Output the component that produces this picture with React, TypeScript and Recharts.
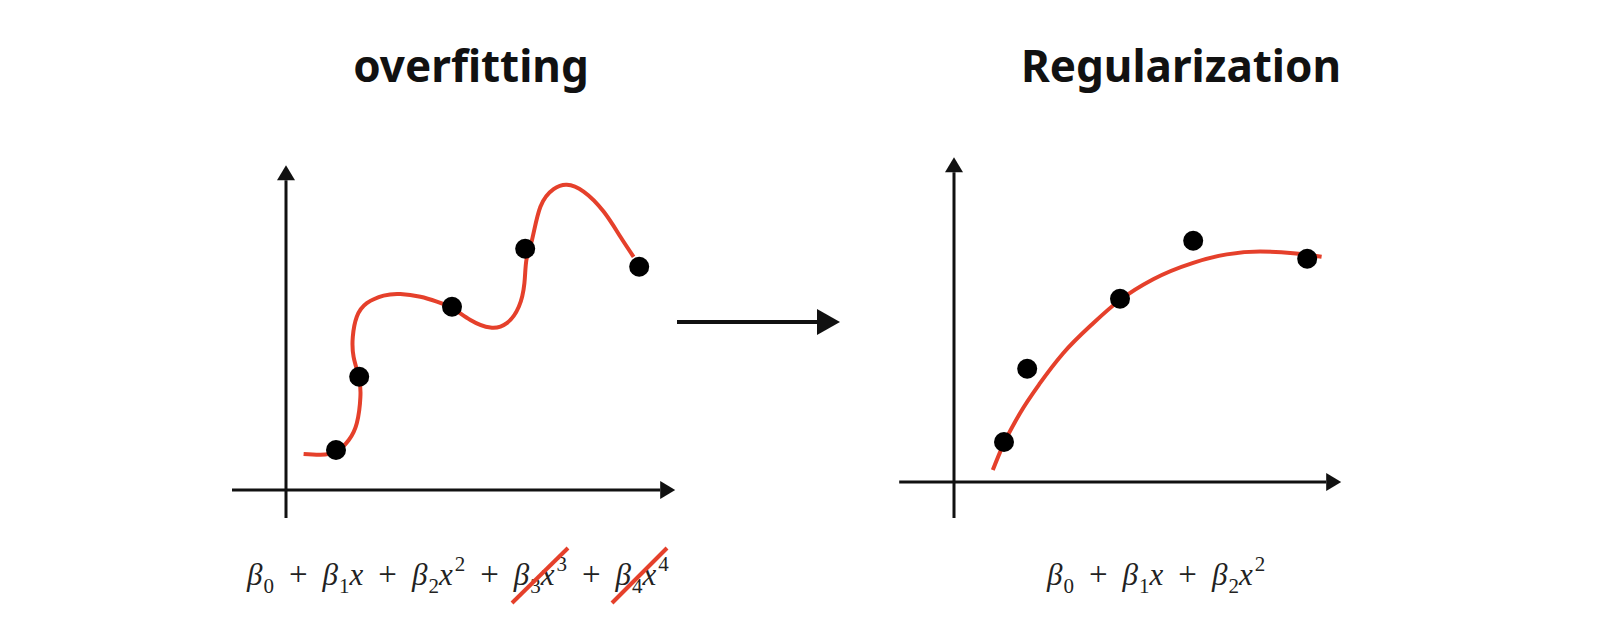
import {
    ComposedChart,
    XAxis,
    YAxis,
    ReferenceLine,
    Line,
    Scatter,
} from 'recharts';

// observed sample, same five points in both panels
const pointX = [1.25, 1.83, 4.15, 5.98, 8.83];
const pointY = [1.0, 2.83, 4.58, 6.03, 5.58];

// wiggly high-degree fit
const overfitX = [0.44, 0.86, 1.26, 1.57, 1.77, 1.86, 1.82, 1.69, 1.67, 1.77, 2.02, 2.44, 2.86, 3.36, 3.77, 4.17, 4.61, 5.11, 5.52, 5.82, 5.96, 6.01, 6.15, 6.36, 6.69, 7.02, 7.44, 7.94, 8.36, 8.69];
const overfitY = [0.9, 0.88, 0.96, 1.25, 1.67, 2.33, 2.83, 3.33, 3.83, 4.33, 4.67, 4.86, 4.9, 4.83, 4.71, 4.54, 4.25, 4.06, 4.17, 4.58, 5.17, 5.75, 6.25, 7.08, 7.52, 7.63, 7.46, 6.96, 6.33, 5.83];

// smooth quadratic fit
const regX = [0.97, 1.25, 1.65, 2.15, 2.73, 3.48, 4.15, 4.98, 5.98, 6.82, 7.65, 8.48, 9.19];
const regY = [0.3, 0.97, 1.72, 2.47, 3.22, 3.97, 4.55, 5.07, 5.48, 5.69, 5.76, 5.72, 5.63];

const titles = ['overfitting', 'Regularization'];
const leftTerms = [0, 1, 2, 3, 4];
const rightTerms = [0, 1, 2];
const struck = [3, 4];

const RED = '#e5402b';
const INK = '#111';

const points = pointX.map((x, i) => ({ x, y: pointY[i] }));
const overfit = overfitX.map((x, i) => ({ x, y: overfitY[i] }));
const reg = regX.map((x, i) => ({ x, y: regY[i] }));

function ArrowLine(p: any) {
    const { x1, y1, x2, y2 } = p;
    const a = Math.atan2(y2 - y1, x2 - x1);
    const L = 15;
    const W = 9;
    const bx = x2 - L * Math.cos(a);
    const by = y2 - L * Math.sin(a);
    const nx = -Math.sin(a) * W;
    const ny = Math.cos(a) * W;
    return (
        <g>
            <line x1={x1} y1={y1} x2={bx} y2={by} stroke={INK} strokeWidth={3} />
            <polygon points={`${x2},${y2} ${bx + nx},${by + ny} ${bx - nx},${by - ny}`} fill={INK} />
        </g>
    );
}

const Dot = (p: any) => <circle cx={p.cx} cy={p.cy} r={10} fill="#000" />;

function Panel({ left, top, xDomain, xAxis, yAxis, curve, curveType }: any) {
    const width = (xDomain[1] - xDomain[0]) * 40;
    return (
        <div style={{ position: 'absolute', left, top }}>
            <ComposedChart width={width} height={380} margin={{ top: 0, right: 0, bottom: 0, left: 0 }}>
                <XAxis type="number" dataKey="x" domain={xDomain} hide allowDataOverflow />
                <YAxis type="number" dataKey="y" domain={[-1, 8.5]} hide allowDataOverflow />
                <ReferenceLine segment={[{ x: xAxis[0], y: 0 }, { x: xAxis[1], y: 0 }]} shape={ArrowLine} ifOverflow="visible" />
                <ReferenceLine segment={[{ x: 0, y: yAxis[0] }, { x: 0, y: yAxis[1] }]} shape={ArrowLine} ifOverflow="visible" />
                <Scatter data={points} fill="#000" shape={Dot} isAnimationActive={false} />
                <Line data={curve} dataKey="y" type={curveType} stroke={RED} strokeWidth={4} dot={false} activeDot={false} isAnimationActive={false} />
            </ComposedChart>
        </div>
    );
}

function Formula({ x, terms }: { x: number; terms: number[] }) {
    const parts: any[] = [];
    let back = 0; // baseline shift still to undo on the next piece
    terms.forEach((k, i) => {
        if (i > 0) {
            parts.push(<tspan key={`p${i}`} dx={15} dy={back} fontSize={33}>+</tspan>);
            back = 0;
        }
        parts.push(<tspan key={`b${i}`} fontStyle="italic" dx={i > 0 ? 15 : 0}>β</tspan>);
        parts.push(<tspan key={`s${i}`} fontSize={21} dy={8} dx={1}>{k}</tspan>);
        back = -8;
        if (k >= 1) {
            parts.push(<tspan key={`x${i}`} fontStyle="italic" dy={back}>x</tspan>);
            back = 0;
            if (k >= 2) {
                parts.push(<tspan key={`e${i}`} fontSize={21} dy={-14} dx={2}>{k}</tspan>);
                back = 14;
            }
        }
    });
    return (
        <text x={x} y={585} fontFamily="'Liberation Serif', serif" fontSize={31} fill="#222">
            {parts}
        </text>
    );
}

export default function App() {
    return (
        <div style={{ position: 'absolute', left: 0, top: 0, width: 1608, height: 644, background: '#fff' }}>
            <Panel left={226} top={150} xDomain={[-1.5, 10]} xAxis={[-1.35, 9.73]} yAxis={[-0.7, 8.12]} curve={overfit} curveType="natural" />
            <Panel left={894} top={142} xDomain={[-1.5, 10.5]} xAxis={[-1.37, 9.68]} yAxis={[-0.9, 8.12]} curve={reg} curveType="monotone" />
            <svg width={1608} height={644} style={{ position: 'absolute', left: 0, top: 0, pointerEvents: 'none' }}>
                <text x={471} y={82} textAnchor="middle" fontFamily="'Noto Sans', sans-serif" fontWeight="bold" fontSize={44} fill="#111">{titles[0]}</text>
                <text x={1181} y={82} textAnchor="middle" fontFamily="'Noto Sans', sans-serif" fontWeight="bold" fontSize={44} fill="#111">{titles[1]}</text>
                <line x1={677} y1={322} x2={820} y2={322} stroke={INK} strokeWidth={4} />
                <polygon points="840,322 817,309 817,335" fill={INK} />
                <Formula x={247} terms={leftTerms} />
                <Formula x={1047} terms={rightTerms} />
                {struck.map((k, i) => (
                    <line key={k} x1={512 + i * 100} y1={603} x2={568 + i * 99} y2={548} stroke={RED} strokeWidth={4} />
                ))}
            </svg>
        </div>
    );
}
